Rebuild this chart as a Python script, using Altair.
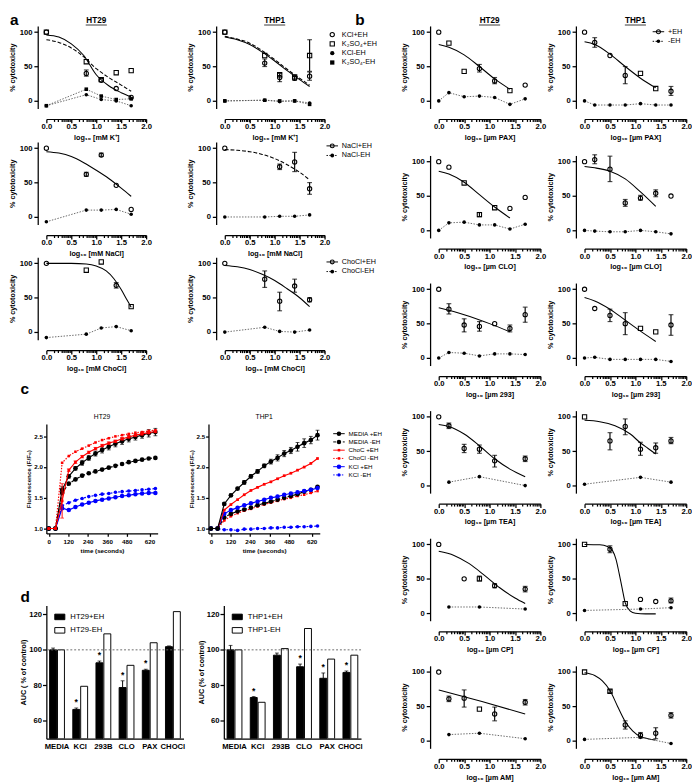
import math
import altair as alt
import pandas as pd

FONT = "Liberation Sans"

# ---------------- panel a : dose data (log10 mM) ----------------
DOSE_A = [0.0, 0.8, 1.1, 1.4, 1.7]
FIT_X_A = [0.0, 0.25, 0.5, 0.75, 1.0, 1.25, 1.5, 1.7]

A1_HT29_KCL_POS = [100, 40, 30, 18, 5]
A1_HT29_KCL_SHAPE = "ooooo"
A1_HT29_KCL_LO = [None, 36, None, None, None]
A1_HT29_KCL_HI = [None, 45, None, None, None]
A1_HT29_K2SO4_POS = [100, 57, 31, 41, 44]
A1_HT29_K2SO4_SHAPE = "sssss"
A1_HT29_KCL_NEG = [-7, 9, 2, 0, -7]
A1_HT29_K2SO4_NEG = [-7, 17, 7, 2, 3]
A1_HT29_KCL_FIT = [96, 93, 83, 66, 38, 22, 12, 6]
A1_HT29_K2SO4_FIT = [89, 85, 77, 64, 47, 34, 23, 14]

A1_THP1_KCL_POS = [100, 55, 34, 33, 36]
A1_THP1_KCL_SHAPE = "ooooo"
A1_THP1_KCL_LO = [None, 50, 28, 30, 30]
A1_THP1_KCL_HI = [None, 61, 40, 36, 42]
A1_THP1_K2SO4_POS = [100, 66, 38, 35, 66]
A1_THP1_K2SO4_SHAPE = "sssss"
A1_THP1_K2SO4_LO = [None, None, None, None, 43]
A1_THP1_K2SO4_HI = [None, None, None, None, 89]
A1_THP1_KCL_NEG = [0, 1, -1, 0, -3]
A1_THP1_K2SO4_NEG = [0, 1, 0, 0, -5]
A1_THP1_KCL_FIT = [93, 89, 82, 71, 58, 44, 31, 21]
A1_THP1_K2SO4_FIT = [94, 90, 84, 73, 60, 46, 33, 23]

A2_HT29_POS = [100, 62, 90, 46, 11]
A2_HT29_SHAPE = "ooooo"
A2_HT29_LO = [None, 59, 88, None, None]
A2_HT29_HI = [None, 65, 93, None, None]
A2_HT29_NEG = [-7, 10, 10, 11, 4]
A2_HT29_FIT = [95, 93, 88, 79, 68, 56, 42, 30]
A2_THP1_POS = [100, None, 73, 80, 41]
A2_THP1_SHAPE = "ooooo"
A2_THP1_LO = [None, None, 69, 66, 33]
A2_THP1_HI = [None, None, 77, 94, 50]
A2_THP1_NEG = [0, 0, 1, 1, 3]
A2_THP1_FIT = [98, 97, 95, 91, 85, 76, 65, 54]

A3_HT29_POS = [100, 90, 102, 68, 37]
A3_HT29_SHAPE = "ossos"
A3_HT29_LO = [None, None, None, 64, None]
A3_HT29_HI = [None, None, None, 72, None]
A3_HT29_NEG = [-8, -3, 6, 8, 2]
A3_HT29_FIT_X = [0.0, 0.5, 0.8, 1.0, 1.2, 1.35, 1.5, 1.6, 1.7]
A3_HT29_FIT = [100, 100, 99, 96, 89, 78, 62, 49, 36]
A3_THP1_POS = [100, 77, 45, 67, 47]
A3_THP1_SHAPE = "ooooo"
A3_THP1_LO = [None, 65, 31, 58, 44]
A3_THP1_HI = [None, 89, 58, 77, 50]
A3_THP1_NEG = [0, 7, 1, 0, 3]
A3_THP1_FIT = [97, 95, 91, 84, 75, 63, 50, 37]

# ---------------- panel b : dose data (log10 um) ----------------
DOSE_B = [0.0, 0.2, 0.5, 0.8, 1.1, 1.4, 1.7]
FIT_X_B = [0.0, 0.2, 0.5, 0.8, 1.1, 1.4]

B1_HT29_POS = [100, 84, 43, 47, 29, 15, 23]
B1_HT29_SHAPE = "ossooso"
B1_HT29_LO = [None, None, None, 42, 25, None, None]
B1_HT29_HI = [None, None, None, 53, 34, None, None]
B1_HT29_FIT = [82, 78, 67, 50, 32, 17]
B1_HT29_NEG = [0, 12, 6, 7, 5, -5, 3]
B1_THP1_POS = [100, 85, 66, 37, 40, 18, 14]
B1_THP1_SHAPE = "oooosso"
B1_THP1_LO = [None, 78, None, 25, None, None, 8]
B1_THP1_HI = [None, 92, None, 50, None, None, 21]
B1_THP1_FIT = [86, 82, 68, 50, 33, 19]
B1_THP1_NEG = [0, -6, -6, -6, -4, -6, -6]

B2_HT29_POS = [100, 92, 69, 23, 33, 32, 48]
B2_HT29_SHAPE = "oosssoo"
B2_HT29_LO = [None, None, None, 20, None, None, None]
B2_HT29_HI = [None, None, None, 26, None, None, None]
B2_HT29_FIT = [86, 82, 70, 52, 34, 18]
B2_HT29_NEG = [0, 11, 12, 8, 8, 2, 9]
B2_THP1_POS = [100, 103, 89, 40, 47, 54, 50]
B2_THP1_SHAPE = "ooooooo"
B2_THP1_LO = [None, 97, 71, 35, 44, 49, None]
B2_THP1_HI = [None, 110, 108, 45, 51, 59, None]
B2_THP1_FIT = [93, 91, 86, 75, 56, 35]
B2_THP1_NEG = [0, -1, -2, -2, 0, -2, -5]

B3_HT29_POS = [100, 71, 48, 46, 50, 43, 63]
B3_HT29_SHAPE = "ooooooo"
B3_HT29_LO = [None, 64, 38, 39, None, 38, 52]
B3_HT29_HI = [None, 79, 57, 53, None, 48, 74]
B3_HT29_FIT_X = [0.0, 0.5, 1.0, 1.4]
B3_HT29_FIT = [73, 63, 50, 38]
B3_HT29_NEG = [0, 8, 7, 3, 6, 6, 5]
B3_THP1_POS = [100, 72, 62, 50, 43, 38, 48]
B3_THP1_SHAPE = "oooosso"
B3_THP1_LO = [None, None, 53, 34, None, None, 33]
B3_THP1_HI = [None, None, 71, 66, None, None, 63]
B3_THP1_FIT = [88, 83, 71, 55, 39, 24]
B3_THP1_NEG = [0, 1, -2, -2, -2, -2, -5]

B4_HT29_POS = [100, 87, 54, 53, 36, None, 39]
B4_HT29_SHAPE = "ooooooo"
B4_HT29_LO = [None, 83, 48, 47, 27, None, 35]
B4_HT29_HI = [None, 91, 60, 59, 44, None, 43]
B4_HT29_FIT_X = [0.0, 0.2, 0.5, 0.8, 1.1, 1.4, 1.7]
B4_HT29_FIT = [89, 86, 75, 58, 39, 24, 13]
B4_HT29_NEG_X = [0.2, 0.8, 1.7]
B4_HT29_NEG = [5, 13, 0]
B4_THP1_POS = [100, None, 65, 86, 53, 55, 65]
B4_THP1_SHAPE = "soooooo"
B4_THP1_LO = [None, None, 52, 74, 44, 47, 61]
B4_THP1_HI = [None, None, 77, 97, 63, 62, 70]
B4_THP1_FIT_X = [0.0, 0.3, 0.6, 0.9, 1.1, 1.25, 1.4]
B4_THP1_FIT = [95, 93, 87, 75, 62, 54, 46]
B4_THP1_NEG_X = [0.0, 1.1, 1.7]
B4_THP1_NEG = [2, 12, 5]

B5_HT29_POS = [100, None, 50, 50, 40, None, 35]
B5_HT29_SHAPE = "ooosooo"
B5_HT29_LO = [None, None, None, 47, 37, None, 31]
B5_HT29_HI = [None, None, None, 54, 43, None, 39]
B5_HT29_FIT_X = [0.0, 0.3, 0.6, 0.9, 1.2, 1.5, 1.7]
B5_HT29_FIT = [90, 84, 72, 55, 37, 22, 14]
B5_HT29_NEG_X = [0.2, 0.8, 1.7]
B5_HT29_NEG = [9, 9, 6]
B5_THP1_POS = [100, None, 93, 14, 20, 17, 18]
B5_THP1_SHAPE = "soosooo"
B5_THP1_LO = [None, None, 88, None, None, None, 15]
B5_THP1_HI = [None, None, 98, None, None, None, 22]
B5_THP1_FIT_X = [0.0, 0.3, 0.45, 0.55, 0.62, 0.68, 0.74, 0.8, 0.9, 1.0, 1.2, 1.4]
B5_THP1_FIT = [100, 99.5, 97, 91, 78, 58, 36, 15, 3, 0, -1, -1]
B5_THP1_NEG_X = [0.0, 1.1, 1.7]
B5_THP1_NEG = [4, 6, 8]

B6_HT29_POS = [100, 61, 62, 46, 39, None, 56]
B6_HT29_SHAPE = "ooosooo"
B6_HT29_LO = [None, 57, 49, None, 29, None, 52]
B6_HT29_HI = [None, 65, 74, None, 49, None, 60]
B6_HT29_FIT_X = [0.0, 0.85, 1.7]
B6_HT29_FIT = [74, 57, 39]
B6_HT29_NEG_X = [0.2, 0.8, 1.7]
B6_HT29_NEG = [9, 11, 3]
B6_THP1_POS = [100, None, 72, 23, 8, 11, 37]
B6_THP1_SHAPE = "sosoooo"
B6_THP1_LO = [None, None, 70, 17, 4, 3, 33]
B6_THP1_HI = [None, None, 74, 29, 12, 19, 41]
B6_THP1_FIT_X = [0.0, 0.2, 0.35, 0.5, 0.65, 0.8, 0.95, 1.1, 1.25, 1.4]
B6_THP1_FIT = [99, 95, 87, 73, 50, 28, 14, 6, 3, 1]
B6_THP1_NEG_X = [0.0, 1.1, 1.7]
B6_THP1_NEG = [2, 5, -4]

# ---------------- panel c : fluorescence ----------------
TIMES = [0, 41, 82, 123, 164, 205, 246, 287, 328, 369, 410, 451, 492, 533, 574, 615, 656]
C_HT29_MEDIA_POS = [1.0, 1.0, 1.63, 1.85, 1.98, 2.07, 2.15, 2.22, 2.28, 2.33, 2.38, 2.42, 2.46, 2.49, 2.52, 2.55, 2.57]
C_HT29_MEDIA_POS_ERR = [0, 0, 0.05, 0.03, 0.03, 0.04, 0.04, 0.04, 0.05, 0.05, 0.05, 0.05, 0.05, 0.05, 0.05, 0.06, 0.06]
C_HT29_MEDIA_NEG = [1.0, 1.0, 1.58, 1.73, 1.80, 1.86, 1.90, 1.93, 1.96, 1.99, 2.02, 2.05, 2.08, 2.10, 2.12, 2.14, 2.15]
C_HT29_CHOC_POS = [1.0, 1.0, 1.45, 1.95, 2.08, 2.17, 2.24, 2.30, 2.35, 2.39, 2.42, 2.46, 2.49, 2.52, 2.54, 2.56, 2.58]
C_HT29_CHOC_POS_ERR = [0, 0, 0.28, 0.02, 0.02, 0.02, 0.02, 0.02, 0.02, 0.02, 0.02, 0.02, 0.02, 0.02, 0.02, 0.02, 0.02]
C_HT29_CHOC_NEG = [1.0, 1.0, 2.07, 2.18, 2.25, 2.30, 2.35, 2.40, 2.44, 2.47, 2.50, 2.52, 2.54, 2.56, 2.57, 2.59, 2.60]
C_HT29_KCL_POS = [1.0, 1.0, 1.33, 1.30, 1.35, 1.39, 1.42, 1.45, 1.47, 1.49, 1.51, 1.53, 1.54, 1.56, 1.57, 1.58, 1.58]
C_HT29_KCL_NEG = [1.0, 1.0, 1.37, 1.42, 1.46, 1.49, 1.52, 1.54, 1.56, 1.57, 1.59, 1.60, 1.61, 1.62, 1.63, 1.64, 1.65]

C_THP1_MEDIA_POS = [1.0, 1.0, 1.40, 1.54, 1.65, 1.75, 1.85, 1.93, 2.02, 2.09, 2.15, 2.22, 2.27, 2.33, 2.39, 2.44, 2.52]
C_THP1_MEDIA_POS_ERR = [0, 0, 0.02, 0.02, 0.02, 0.03, 0.03, 0.03, 0.03, 0.04, 0.05, 0.05, 0.05, 0.07, 0.07, 0.06, 0.08]
C_THP1_MEDIA_NEG = [1.0, 1.0, 1.18, 1.24, 1.28, 1.31, 1.34, 1.38, 1.41, 1.44, 1.47, 1.50, 1.53, 1.56, 1.60, 1.63, 1.68]
C_THP1_CHOC_POS = [1.0, 1.0, 1.30, 1.39, 1.47, 1.55, 1.62, 1.67, 1.72, 1.76, 1.81, 1.86, 1.90, 1.95, 2.00, 2.06, 2.14]
C_THP1_CHOC_NEG = [1.0, 1.0, 1.13, 1.20, 1.25, 1.29, 1.32, 1.36, 1.39, 1.42, 1.45, 1.48, 1.50, 1.53, 1.55, 1.58, 1.61]
C_THP1_KCL_POS = [1.0, 1.0, 1.24, 1.30, 1.34, 1.38, 1.41, 1.44, 1.47, 1.50, 1.52, 1.55, 1.57, 1.59, 1.61, 1.63, 1.66]
C_THP1_KCL_NEG = [1.0, 1.0, 0.98, 0.98, 0.97, 0.99, 0.99, 1.0, 1.0, 1.01, 1.01, 1.02, 1.02, 1.03, 1.03, 1.035, 1.04]

# ---------------- panel d : AUC ----------------
D_CATS = ["MEDIA", "KCl", "293B", "CLO", "PAX", "CHOCl"]
D_HT29_POS = [100, 66.5, 92.7, 78.8, 88.5, 101.8]
D_HT29_POS_ERR = [1.0, 0.8, 1.0, 3.8, 0.6, 0.4]
D_HT29_NEG = [100, 79.5, 109, 91.3, 104, 121.5]
D_HT29_STAR = [False, True, True, True, True, False]
D_THP1_POS = [100, 73.2, 97, 90.5, 84, 87.3]
D_THP1_POS_ERR = [2.5, 0.5, 1.2, 1.5, 3.0, 0.8]
D_THP1_NEG = [100, 70.5, 100.7, 112, 94.8, 97]
D_THP1_STAR = [False, True, False, True, True, True]


def AXS(**kw):
    base = dict(domainColor="black", domainWidth=1.3, tickColor="black", tickWidth=1.3,
                labelFont=FONT, labelFontSize=8, labelFontWeight="bold", labelColor="black",
                titleFont=FONT, titleFontSize=7.5, titleFontWeight="bold", titleColor="black",
                grid=False, labelPadding=2, titlePadding=3)
    base.update(kw)
    return alt.Axis(**base)


MAJOR_TEST = "abs(datum.value*2 - round(datum.value*2)) < 0.001"


def x_dose_axis(title):
    vals = [0.0, 0.5, 1.0, 1.5, 2.0]
    for b in [0.0, 0.5, 1.0, 1.5]:
        for k in range(2, 10):
            vals.append(round(b + 0.5 * math.log10(k), 4))
    vals = sorted(vals)
    return AXS(title=title, values=vals, offset=11, labelFlush=False, labelOverlap=False,
               labelPadding=0, titlePadding=3,
               labelExpr=MAJOR_TEST + " ? format(datum.value, '.1f') : ''",
               tickSize={"condition": {"test": MAJOR_TEST, "value": 4}, "value": 2.5})


def y_cyto_axis():
    return AXS(title="% cytotoxicity", values=[0, 50, 100], offset=9, tickSize=4)


def text_layer(text, x, y, size=16, weight="bold", align="left", baseline="alphabetic"):
    return alt.Chart(pd.DataFrame({"label": [text]})).mark_text(
        align=align, baseline=baseline, font=FONT, fontSize=size, fontWeight=weight, color="black"
    ).encode(x=alt.value(x), y=alt.value(y), text="label:N")


def head_layers(text, width, underline=True, y=-3, size=8.5, weight="bold"):
    out = [text_layer(text, width / 2, y, size=size, weight=weight, align="center")]
    if underline:
        out.append(alt.Chart(pd.DataFrame({"label": [text]})).mark_rule(color="black", strokeWidth=0.8)
                   .encode(x=alt.value(width / 2 - 11), x2=alt.value(width / 2 + 11), y=alt.value(y + 2)))
    return out


def legend_layers(items, x0, y0, dy, fsize=7.5):
    out = []
    for i, (label, shape, filled, dash, color, size) in enumerate(items):
        y = y0 + i * dy
        base = alt.Chart(pd.DataFrame({"label": [label]}))
        if dash is not None:
            kw = dict(color=color, strokeWidth=1)
            if dash != "solid":
                kw["strokeDash"] = dash
            out.append(base.mark_rule(**kw).encode(x=alt.value(x0 - 6), x2=alt.value(x0 + 6), y=alt.value(y)))
        out.append(base.mark_point(shape=shape, filled=filled, color=color, size=size, opacity=1,
                                   strokeWidth=1.1).encode(x=alt.value(x0), y=alt.value(y)))
        out.append(base.mark_text(align="left", baseline="middle", font=FONT, fontSize=fsize,
                                  color="black").encode(x=alt.value(x0 + 10), y=alt.value(y), text="label:N"))
    return out


def dose_chart(xtitle, pos_list, fits, negs, width=104, extra=None):
    X = alt.X("x:Q", scale=alt.Scale(domain=[0, 2], nice=False, zero=False), axis=x_dose_axis(xtitle))
    Y = alt.Y("y:Q", scale=alt.Scale(domain=[-11, 109], nice=False, zero=False), axis=y_cyto_axis())
    layers = []
    for fx, fy, dash in fits:
        kw = dict(color="black", strokeWidth=1.1, interpolate="monotone")
        if dash:
            kw["strokeDash"] = dash
        layers.append(alt.Chart(pd.DataFrame({"x": fx, "y": fy})).mark_line(**kw).encode(x=X, y=Y))
    for nx, ny, shape in negs:
        d = pd.DataFrame({"x": nx, "y": ny})
        layers.append(alt.Chart(d).mark_line(color="#555555", strokeWidth=0.9,
                                             strokeDash=[1.5, 1.5]).encode(x=X, y=Y))
        layers.append(alt.Chart(d).mark_point(shape=shape, filled=True, color="black", size=14,
                                              opacity=1).encode(x=X, y=Y))
    for xs, ys, shapes, lo, hi in pos_list:
        pts = [(x, y, s) for x, y, s in zip(xs, ys, shapes) if y is not None]
        for code, shp in (("o", "circle"), ("s", "square")):
            sub = [(x, y) for x, y, s in pts if s == code]
            if sub:
                layers.append(alt.Chart(pd.DataFrame(sub, columns=["x", "y"])).mark_point(
                    shape=shp, filled=False, color="black", size=20, strokeWidth=1.1, opacity=1
                ).encode(x=X, y=Y))
        if lo is not None:
            e = [(x, l, h) for x, l, h in zip(xs, lo, hi) if l is not None]
            if e:
                layers.append(alt.Chart(pd.DataFrame(e, columns=["x", "y", "y2"])).mark_rule(
                    color="black", strokeWidth=1.2).encode(x=X, y=Y, y2="y2:Q"))
                caps = pd.DataFrame([(x, v) for x, l, h in e for v in (l, h)], columns=["x", "y"])
                layers.append(alt.Chart(caps).mark_tick(orient="horizontal", size=5, thickness=1.2,
                                                        color="black").encode(x=X, y=Y))
    if extra:
        layers += extra
    return alt.layer(*layers).properties(width=width, height=86)


def fluo_chart(series, extra=None):
    X = alt.X("t:Q", scale=alt.Scale(domain=[-15, 670], nice=False, zero=False),
              axis=AXS(title="time (seconds)", values=[0, 120, 240, 360, 480, 620], labelFontSize=6.5,
                       titleFontSize=6.5, tickSize=3, labelFlush=False))
    Y = alt.Y("v:Q", scale=alt.Scale(domain=[0.92, 2.7], nice=False, zero=False),
              axis=AXS(title="Fluorescence (F/F\u2080)", values=[1.0, 1.5, 2.0, 2.5], format=".1f",
                       labelFontSize=6.5, titleFontSize=6.5, tickSize=3, labelPadding=1, titlePadding=2))
    layers = []
    for vals, errs, color, dash, shape, size in series:
        d = pd.DataFrame({"t": TIMES, "v": vals})
        kw = dict(color=color, strokeWidth=1.2)
        if dash:
            kw["strokeDash"] = dash
        layers.append(alt.Chart(d).mark_line(**kw).encode(x=X, y=Y))
        layers.append(alt.Chart(d).mark_point(shape=shape, filled=True, color=color, size=size,
                                              opacity=1).encode(x=X, y=Y))
        if errs is not None:
            e = pd.DataFrame({"t": TIMES, "v": [v - s for v, s in zip(vals, errs)],
                              "v2": [v + s for v, s in zip(vals, errs)]})
            e = e[[s > 0 for s in errs]]
            layers.append(alt.Chart(e).mark_rule(color=color, strokeWidth=1).encode(x=X, y=Y, y2="v2:Q"))
            caps = pd.DataFrame({"t": list(e["t"]) * 2, "v": list(e["v"]) + list(e["v2"])})
            layers.append(alt.Chart(caps).mark_tick(orient="horizontal", size=4, thickness=1,
                                                    color=color).encode(x=X, y=Y))
    if extra:
        layers += extra
    return alt.layer(*layers).properties(width=116, height=114)


def auc_chart(pos, err, neg, stars, names, ytitle, extra=None):
    rows = [(c, "+", names[0], v) for c, v in zip(D_CATS, pos)] + \
           [(c, "-", names[1], v) for c, v in zip(D_CATS, neg)]
    df = pd.DataFrame(rows, columns=["cat", "grp", "lab", "val"])
    X = alt.X("cat:N", sort=D_CATS, scale=alt.Scale(paddingInner=0.36, paddingOuter=0.14),
              axis=AXS(title=None, labelAngle=0, ticks=False, labelPadding=4, labelFontSize=8))
    XO = alt.XOffset("grp:N", sort=["+", "-"], scale=alt.Scale(paddingInner=0.12))
    YS = alt.Scale(domain=[50, 125], nice=False, zero=False)
    Y = alt.Y("val:Q", scale=YS, axis=AXS(title=ytitle, values=[60, 80, 100, 120], tickSize=4,
                                          labelPadding=1, titlePadding=1))
    bars = alt.Chart(df).mark_bar(stroke="black", strokeWidth=1, clip=True).encode(
        x=X, xOffset=XO, y=Y, y2=alt.datum(50),
        fill=alt.Fill("lab:N", sort=names, scale=alt.Scale(domain=names, range=["black", "white"]),
                      legend=alt.Legend(title=None, orient="none", legendX=8, legendY=6,
                                        labelFont=FONT, labelFontSize=8, labelColor="black",
                                        symbolType="M-1,-0.55H1V0.55H-1Z", symbolSize=110,
                                        symbolStrokeColor="black", symbolStrokeWidth=1,
                                        rowPadding=3, labelOffset=5)))
    e = pd.DataFrame({"cat": D_CATS, "grp": "+", "val": pos, "hi": [p + s for p, s in zip(pos, err)]})
    erule = alt.Chart(e).mark_rule(color="black", strokeWidth=1).encode(x=X, xOffset=XO, y=Y, y2="hi:Q")
    ecap = alt.Chart(e).mark_tick(orient="horizontal", size=4, thickness=1, color="black").encode(
        x=X, xOffset=XO, y=alt.Y("hi:Q", scale=YS))
    s = e[stars].copy()
    star = alt.Chart(s).mark_text(text="*", font=FONT, fontSize=9, fontWeight="bold", dy=-1,
                                  baseline="bottom", color="black").encode(
        x=X, xOffset=XO, y=alt.Y("hi:Q", scale=YS))
    ref = alt.Chart(pd.DataFrame({"val": [100]})).mark_rule(color="#666666", strokeDash=[2, 2],
                                                            strokeWidth=1).encode(y=Y)
    layers = [bars, ref, erule, ecap, star]
    if extra:
        layers += extra
    return alt.layer(*layers).properties(width=143, height=139)


# ---------------- build panel a ----------------
LEG_A1 = [("KCl+EH", "circle", False, None, "black", 20),
          ("K\u2082SO\u2084+EH", "square", False, None, "black", 20),
          ("KCl-EH", "circle", True, None, "black", 20),
          ("K\u2082SO\u2084-EH", "square", True, None, "black", 20)]
LEG_A2 = [("NaCl+EH", "circle", False, "solid", "black", 16),
          ("NaCl-EH", "circle", True, [1.5, 1.5], "black", 16)]
LEG_A3 = [("ChoCl+EH", "circle", False, "solid", "black", 16),
          ("ChoCl-EH", "circle", True, [1.5, 1.5], "black", 16)]

XT_K = "log\u2081\u2080 [mM K\u207a]"
XT_NA = "log\u2081\u2080 [mM NaCl]"
XT_CHO = "log\u2081\u2080 [mM ChoCl]"

a1_ht29 = dose_chart(
    XT_K,
    [(DOSE_A, A1_HT29_KCL_POS, A1_HT29_KCL_SHAPE, A1_HT29_KCL_LO, A1_HT29_KCL_HI),
     (DOSE_A, A1_HT29_K2SO4_POS, A1_HT29_K2SO4_SHAPE, None, None)],
    [(FIT_X_A, A1_HT29_KCL_FIT, None), (FIT_X_A, A1_HT29_K2SO4_FIT, [4, 2])],
    [(DOSE_A, A1_HT29_KCL_NEG, "circle"), (DOSE_A, A1_HT29_K2SO4_NEG, "square")],
    extra=head_layers("HT29", 104) + [text_layer("a", -38, -1)])
a1_thp1 = dose_chart(
    XT_K,
    [(DOSE_A, A1_THP1_KCL_POS, A1_THP1_KCL_SHAPE, A1_THP1_KCL_LO, A1_THP1_KCL_HI),
     (DOSE_A, A1_THP1_K2SO4_POS, A1_THP1_K2SO4_SHAPE, A1_THP1_K2SO4_LO, A1_THP1_K2SO4_HI)],
    [(FIT_X_A, A1_THP1_KCL_FIT, None), (FIT_X_A, A1_THP1_K2SO4_FIT, [4, 2])],
    [(DOSE_A, A1_THP1_KCL_NEG, "circle"), (DOSE_A, A1_THP1_K2SO4_NEG, "square")],
    extra=head_layers("THP1", 104) + legend_layers(LEG_A1, 112, 9, 9.7) + [text_layer("b", 136, -1)])

a2_ht29 = dose_chart(XT_NA, [(DOSE_A, A2_HT29_POS, A2_HT29_SHAPE, A2_HT29_LO, A2_HT29_HI)],
                     [(FIT_X_A, A2_HT29_FIT, None)], [(DOSE_A, A2_HT29_NEG, "circle")])
a2_thp1 = dose_chart(XT_NA, [(DOSE_A, A2_THP1_POS, A2_THP1_SHAPE, A2_THP1_LO, A2_THP1_HI)],
                     [(FIT_X_A, A2_THP1_FIT, [4, 2])], [(DOSE_A, A2_THP1_NEG, "circle")],
                     extra=legend_layers(LEG_A2, 112, 4, 10))
a3_ht29 = dose_chart(XT_CHO, [(DOSE_A, A3_HT29_POS, A3_HT29_SHAPE, A3_HT29_LO, A3_HT29_HI)],
                     [(A3_HT29_FIT_X, A3_HT29_FIT, None)], [(DOSE_A, A3_HT29_NEG, "circle")])
a3_thp1 = dose_chart(XT_CHO, [(DOSE_A, A3_THP1_POS, A3_THP1_SHAPE, A3_THP1_LO, A3_THP1_HI)],
                     [(FIT_X_A, A3_THP1_FIT, None)], [(DOSE_A, A3_THP1_NEG, "circle")],
                     extra=legend_layers(LEG_A3, 112, 5, 10))

a_row1 = alt.hconcat(a1_ht29, a1_thp1, spacing=36)
a_row2 = alt.hconcat(a2_ht29, a2_thp1, spacing=36)
a_row3 = alt.hconcat(a3_ht29, a3_thp1, spacing=36)
a_block = alt.vconcat(a_row1, a_row2, a_row3, spacing=0)

# ---------------- build panel c ----------------
BLACK, RED, BLUE = "black", "#ff0000", "#0000ff"
C_HT29_SERIES = [
    (C_HT29_KCL_POS, None, BLUE, None, "circle", 22),
    (C_HT29_KCL_NEG, None, BLUE, [2, 2], "circle", 14),
    (C_HT29_MEDIA_NEG, None, BLACK, [4, 2], "circle", 24),
    (C_HT29_MEDIA_POS, C_HT29_MEDIA_POS_ERR, BLACK, None, "circle", 24),
    (C_HT29_CHOC_NEG, None, RED, [1.5, 1.5], "square", 7),
    (C_HT29_CHOC_POS, C_HT29_CHOC_POS_ERR, RED, None, "square", 8),
]
C_THP1_SERIES = [
    (C_THP1_KCL_NEG, None, BLUE, [2, 2], "circle", 14),
    (C_THP1_CHOC_NEG, None, RED, [1.5, 1.5], "square", 7),
    (C_THP1_MEDIA_NEG, None, BLACK, [4, 2], "circle", 24),
    (C_THP1_KCL_POS, None, BLUE, None, "circle", 22),
    (C_THP1_CHOC_POS, None, RED, None, "square", 8),
    (C_THP1_MEDIA_POS, C_THP1_MEDIA_POS_ERR, BLACK, None, "circle", 24),
]
LEG_C = [("MEDIA +EH", "circle", True, "solid", BLACK, 22),
         ("MEDIA -EH", "circle", True, [3, 2], BLACK, 22),
         ("ChoC +EH", "square", True, "solid", RED, 7),
         ("ChoCl -EH", "square", True, [1.5, 1.5], RED, 7),
         ("KCl +EH", "circle", True, "solid", BLUE, 22),
         ("KCl -EH", "circle", True, [1.5, 1.5], BLUE, 12)]

c_ht29 = fluo_chart(C_HT29_SERIES, extra=head_layers("HT29", 116, underline=False, y=-5, size=7,
                                                     weight="normal") + [text_layer("c", -27, -31)])
c_thp1 = fluo_chart(C_THP1_SERIES, extra=head_layers("THP1", 116, underline=False, y=-5, size=7,
                                                     weight="normal") + legend_layers(LEG_C, 136, 10, 8.6, fsize=6.5))
c_row = alt.hconcat(c_ht29, c_thp1, spacing=30)

# ---------------- build panel d ----------------
d_ht29 = auc_chart(D_HT29_POS, D_HT29_POS_ERR, D_HT29_NEG, D_HT29_STAR, ["HT29+EH", "HT29-EH"],
                   "AUC ( % of control)", extra=[text_layer("d", -27, -4)])
d_thp1 = auc_chart(D_THP1_POS, D_THP1_POS_ERR, D_THP1_NEG, D_THP1_STAR, ["THP1+EH", "THP1-EH"],
                   "AUC (% of control)")
d_row = alt.hconcat(d_ht29, d_thp1, spacing=12
                    ).resolve_scale(fill="independent").resolve_legend(fill="independent")

left = alt.vconcat(a_block, alt.vconcat(c_row, d_row, spacing=37), spacing=10)

# ---------------- build panel b ----------------
LEG_B = [("+EH", "circle", False, "solid", "black", 18),
         ("-EH", "circle", True, [1.5, 1.5], "black", 14)]


def brow(xt, ht, th, first=False):
    h = dose_chart(xt, [ht[0]], [ht[1]], [ht[2]], width=106,
                   extra=head_layers("HT29", 106) if first else None)
    t = dose_chart(xt, [th[0]], [th[1]], [th[2]], width=106,
                   extra=(head_layers("THP1", 106) + legend_layers(LEG_B, 77, 6, 10)) if first else None)
    return alt.hconcat(h, t, spacing=0)


def xt_b(name):
    return "log\u2081\u2080 [\u00b5m " + name + "]"


b1 = brow(xt_b("PAX"),
          ((DOSE_B, B1_HT29_POS, B1_HT29_SHAPE, B1_HT29_LO, B1_HT29_HI), (FIT_X_B, B1_HT29_FIT, None),
           (DOSE_B, B1_HT29_NEG, "circle")),
          ((DOSE_B, B1_THP1_POS, B1_THP1_SHAPE, B1_THP1_LO, B1_THP1_HI), (FIT_X_B, B1_THP1_FIT, None),
           (DOSE_B, B1_THP1_NEG, "circle")), first=True)
b2 = brow(xt_b("CLO"),
          ((DOSE_B, B2_HT29_POS, B2_HT29_SHAPE, B2_HT29_LO, B2_HT29_HI), (FIT_X_B, B2_HT29_FIT, None),
           (DOSE_B, B2_HT29_NEG, "circle")),
          ((DOSE_B, B2_THP1_POS, B2_THP1_SHAPE, B2_THP1_LO, B2_THP1_HI), (FIT_X_B, B2_THP1_FIT, None),
           (DOSE_B, B2_THP1_NEG, "circle")))
b3 = brow(xt_b("293"),
          ((DOSE_B, B3_HT29_POS, B3_HT29_SHAPE, B3_HT29_LO, B3_HT29_HI), (B3_HT29_FIT_X, B3_HT29_FIT, None),
           (DOSE_B, B3_HT29_NEG, "circle")),
          ((DOSE_B, B3_THP1_POS, B3_THP1_SHAPE, B3_THP1_LO, B3_THP1_HI), (FIT_X_B, B3_THP1_FIT, None),
           (DOSE_B, B3_THP1_NEG, "circle")))
b4 = brow(xt_b("TEA"),
          ((DOSE_B, B4_HT29_POS, B4_HT29_SHAPE, B4_HT29_LO, B4_HT29_HI), (B4_HT29_FIT_X, B4_HT29_FIT, None),
           (B4_HT29_NEG_X, B4_HT29_NEG, "circle")),
          ((DOSE_B, B4_THP1_POS, B4_THP1_SHAPE, B4_THP1_LO, B4_THP1_HI), (B4_THP1_FIT_X, B4_THP1_FIT, None),
           (B4_THP1_NEG_X, B4_THP1_NEG, "circle")))
b5 = brow(xt_b("CP"),
          ((DOSE_B, B5_HT29_POS, B5_HT29_SHAPE, B5_HT29_LO, B5_HT29_HI), (B5_HT29_FIT_X, B5_HT29_FIT, None),
           (B5_HT29_NEG_X, B5_HT29_NEG, "circle")),
          ((DOSE_B, B5_THP1_POS, B5_THP1_SHAPE, B5_THP1_LO, B5_THP1_HI), (B5_THP1_FIT_X, B5_THP1_FIT, None),
           (B5_THP1_NEG_X, B5_THP1_NEG, "circle")))
b6 = brow(xt_b("AM"),
          ((DOSE_B, B6_HT29_POS, B6_HT29_SHAPE, B6_HT29_LO, B6_HT29_HI), (B6_HT29_FIT_X, B6_HT29_FIT, None),
           (B6_HT29_NEG_X, B6_HT29_NEG, "circle")),
          ((DOSE_B, B6_THP1_POS, B6_THP1_SHAPE, B6_THP1_LO, B6_THP1_HI), (B6_THP1_FIT_X, B6_THP1_FIT, None),
           (B6_THP1_NEG_X, B6_THP1_NEG, "circle")))

right = alt.vconcat(b1, b2, b3, b4, b5, b6, spacing=13)

chart = alt.hconcat(left, right, spacing=18).configure_view(stroke=None).properties(
    background="white", padding={"left": 0, "top": -12, "right": 0, "bottom": 0})

chart.save("out.html", embed_options={"renderer": "svg", "actions": False})
